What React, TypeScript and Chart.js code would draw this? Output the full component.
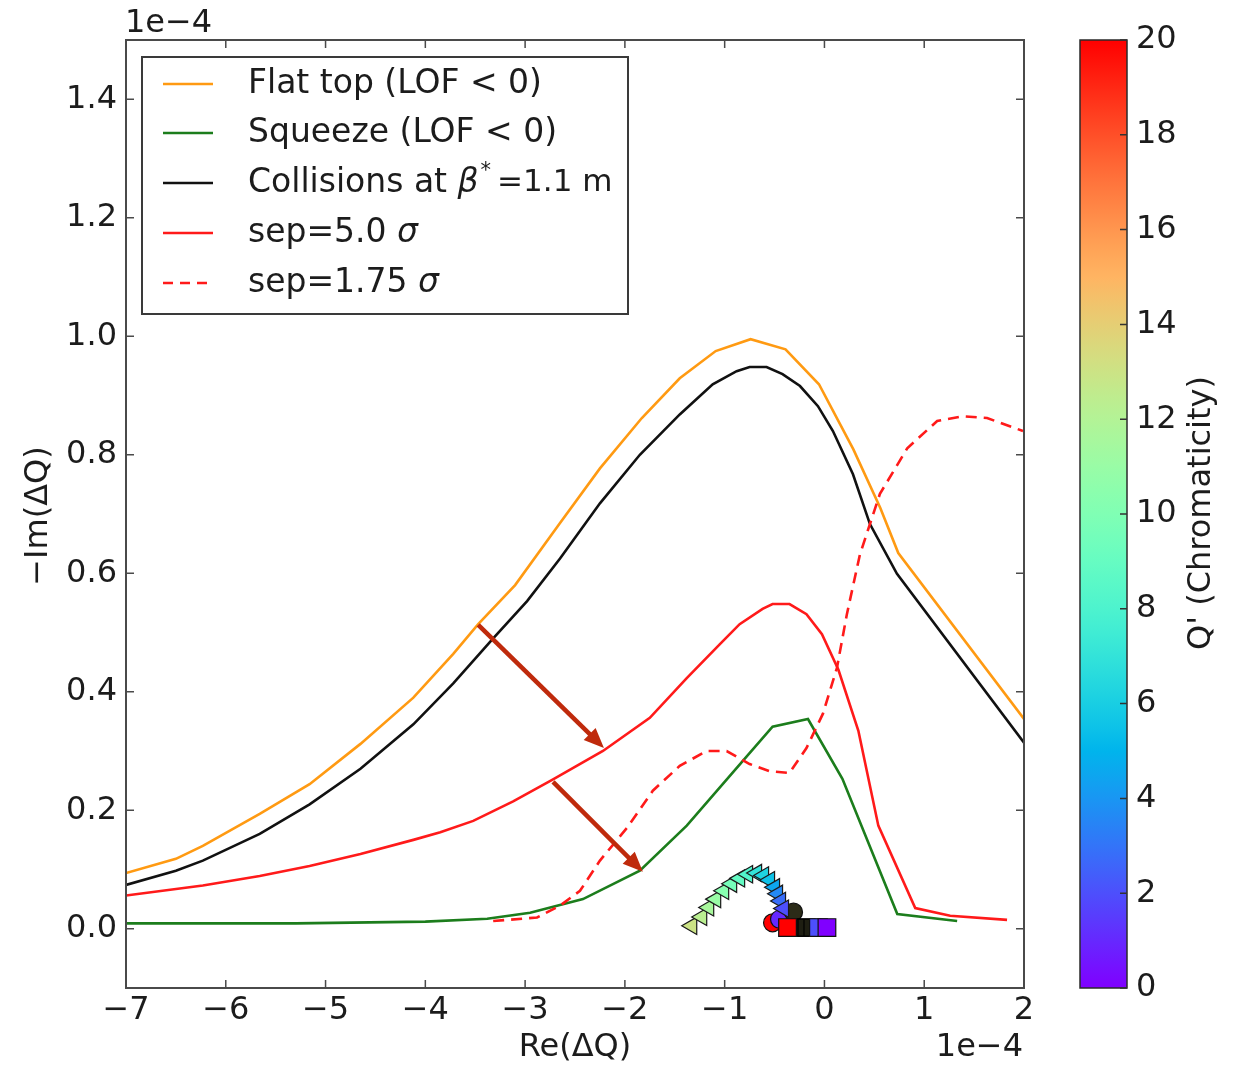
import React, { useEffect, useRef } from "react";
import { Chart, registerables } from "chart.js";

Chart.register(...registerables);

// ---------- data (units of 1e-4) ----------
const X_TICKS = [-7, -6, -5, -4, -3, -2, -1, 0, 1, 2];
const Y_TICKS = [0.0, 0.2, 0.4, 0.6, 0.8, 1.0, 1.2, 1.4];
const CBAR_TICKS = [0, 2, 4, 6, 8, 10, 12, 14, 16, 18, 20];

const flatTopX = [-7.0, -6.5, -6.23, -5.66, -5.16, -4.65, -4.12, -3.72, -3.47, -3.1, -2.65, -2.25, -1.83, -1.45, -1.09, -0.74, -0.39, -0.055, 0.29, 0.56, 0.74, 2.0];
const flatTopY = [0.094, 0.118, 0.14, 0.194, 0.244, 0.312, 0.39, 0.464, 0.514, 0.58, 0.685, 0.777, 0.862, 0.929, 0.975, 0.995, 0.978, 0.919, 0.809, 0.71, 0.634, 0.354];

const collX = [-7.0, -6.5, -6.23, -5.66, -5.16, -4.65, -4.12, -3.72, -3.32, -2.98, -2.65, -2.25, -1.85, -1.45, -1.12, -0.88, -0.75, -0.58, -0.42, -0.245, -0.065, 0.085, 0.286, 0.456, 0.727, 2.0];
const collY = [0.074, 0.098, 0.115, 0.16, 0.21, 0.27, 0.345, 0.414, 0.49, 0.553, 0.625, 0.718, 0.80, 0.868, 0.919, 0.941, 0.948, 0.948, 0.936, 0.916, 0.882, 0.84, 0.767, 0.683, 0.599, 0.314];

const sep5X = [-7.0, -6.23, -5.66, -5.16, -4.65, -4.12, -3.85, -3.52, -3.12, -2.72, -2.22, -1.75, -1.38, -1.05, -0.85, -0.62, -0.52, -0.35, -0.18, -0.025, 0.14, 0.34, 0.54, 0.91, 1.26, 1.83];
const sep5Y = [0.056, 0.073, 0.089, 0.106, 0.126, 0.15, 0.163, 0.182, 0.215, 0.252, 0.30, 0.356, 0.423, 0.48, 0.514, 0.54, 0.548, 0.548, 0.531, 0.497, 0.437, 0.334, 0.174, 0.035, 0.022, 0.015];

const squeezeX = [-7.0, -5.3, -4.0, -3.38, -2.95, -2.42, -1.85, -1.38, -0.82, -0.52, -0.165, 0.18, 0.73, 1.33];
const squeezeY = [0.009, 0.009, 0.012, 0.017, 0.027, 0.05, 0.098, 0.174, 0.283, 0.341, 0.354, 0.253, 0.025, 0.013];

const sep175X = [-3.32, -2.88, -2.65, -2.45, -2.25, -1.98, -1.72, -1.45, -1.18, -0.98, -0.75, -0.55, -0.35, -0.18, -0.015, 0.125, 0.225, 0.356, 0.556, 0.83, 1.13, 1.39, 1.63, 1.99];
const sep175Y = [0.013, 0.019, 0.039, 0.064, 0.115, 0.17, 0.233, 0.275, 0.30, 0.30, 0.278, 0.266, 0.263, 0.305, 0.363, 0.44, 0.531, 0.632, 0.734, 0.811, 0.857, 0.865, 0.862, 0.84];

// chromaticity scan markers
const triX = [-1.33, -1.23, -1.16, -1.09, -1.01, -0.93, -0.85, -0.77, -0.68, -0.61, -0.55, -0.5, -0.47, -0.44, -0.41];
const triY = [0.005, 0.02, 0.036, 0.05, 0.064, 0.076, 0.085, 0.092, 0.094, 0.09, 0.082, 0.07, 0.059, 0.047, 0.034];
const triQ = [13, 12.3, 11.6, 11, 10.3, 9.6, 8.9, 8.2, 7.0, 6.2, 5.5, 4.5, 3.6, 2.8, 2.0];

const circX = [-0.52, -0.45, -0.31];
const circY = [0.01, 0.016, 0.028];
const circQ = [20, 1, 0];

const darkSqX = [-0.3, -0.24, -0.18, -0.12];
const darkSqY = [0.002, 0.002, 0.002, 0.002];

const sqX = [-0.06, 0.025, -0.37];
const sqY = [0.002, 0.002, 0.002];
const sqQ = [2, 0, 20];

// annotation arrows [x1, y1, x2, y2]
const arrow1 = [-3.47, 0.513, -2.21, 0.305];
const arrow2 = [-2.72, 0.248, -1.82, 0.096];

const LEGEND_LABELS = ["Flat top (LOF < 0)", "Squeeze (LOF < 0)", "Collisions at ", "sep=5.0 ", "sep=1.75 "];

// ---------- styles ----------
const FONT = "'DejaVu Sans', sans-serif";
const FS = 32;
const LFS = 33;
const ORANGE = "#ff9a12";
const GREEN = "#1c7d1c";
const RED = "#ff1a1a";
const BLACK = "#111111";
const ARROW = "#bf2a0c";
const TXT = "#1c1c1c";
const LW = 2.6;

function rainbow(q: number): string {
  const t = Math.max(0, Math.min(1, q / 20));
  const cl = (v: number) => Math.max(0, Math.min(1, v));
  const r = cl(Math.abs(2 * t - 0.5));
  const g = cl(Math.sin(Math.PI * t));
  const b = cl(Math.cos((Math.PI / 2) * t));
  return `rgb(${Math.round(r * 255)},${Math.round(g * 255)},${Math.round(b * 255)})`;
}

const toPts = (xs: number[], ys: number[]) => xs.map((x, i) => ({ x, y: ys[i] }));
const fmt = (v: number) => (v < 0 ? "\u2212" + Math.abs(v) : String(v));

const CB = { left: 1080, right: 1127 };

function drawArrow(ctx: CanvasRenderingContext2D, x1: number, y1: number, x2: number, y2: number) {
  const a = Math.atan2(y2 - y1, x2 - x1);
  const hl = 20, hw = 8.5;
  const bx = x2 - hl * Math.cos(a), by = y2 - hl * Math.sin(a);
  ctx.save();
  ctx.strokeStyle = ARROW;
  ctx.fillStyle = ARROW;
  ctx.lineWidth = 4.5;
  ctx.beginPath();
  ctx.moveTo(x1, y1);
  ctx.lineTo(bx + 2 * Math.cos(a), by + 2 * Math.sin(a));
  ctx.stroke();
  ctx.beginPath();
  ctx.moveTo(x2, y2);
  ctx.lineTo(bx + hw * Math.sin(a), by - hw * Math.cos(a));
  ctx.lineTo(bx - hw * Math.sin(a), by + hw * Math.cos(a));
  ctx.closePath();
  ctx.fill();
  ctx.restore();
}

const decor = {
  id: "decor",
  afterDatasetsDraw(chart: any) {
    const ctx: CanvasRenderingContext2D = chart.ctx;
    const { left, right, top, bottom } = chart.chartArea;
    const xs = chart.scales.x, ys = chart.scales.y;
    const px = (v: number) => xs.getPixelForValue(v);
    const py = (v: number) => ys.getPixelForValue(v);

    for (const ar of [arrow1, arrow2]) drawArrow(ctx, px(ar[0]), py(ar[1]), px(ar[2]), py(ar[3]));

    ctx.save();
    ctx.strokeStyle = "#4a4a4a";
    ctx.lineWidth = 2;
    ctx.strokeRect(left, top, right - left, bottom - top);
    ctx.lineWidth = 1.5;
    ctx.beginPath();
    for (const v of X_TICKS) {
      const x = px(v);
      ctx.moveTo(x, bottom); ctx.lineTo(x, bottom - 8);
      ctx.moveTo(x, top); ctx.lineTo(x, top + 8);
    }
    for (const v of Y_TICKS) {
      const y = py(v);
      ctx.moveTo(left, y); ctx.lineTo(left + 8, y);
      ctx.moveTo(right, y); ctx.lineTo(right - 8, y);
    }
    ctx.stroke();

    // legend
    const L = { x: 142, y: 57, w: 486, h: 257 };
    ctx.fillStyle = "#ffffff";
    ctx.fillRect(L.x, L.y, L.w, L.h);
    ctx.strokeStyle = "#3a3a3a";
    ctx.lineWidth = 2;
    ctx.strokeRect(L.x, L.y, L.w, L.h);
    const rows = [84, 133, 183, 233, 283];
    const cols = [ORANGE, GREEN, BLACK, RED, RED];
    ctx.textBaseline = "middle";
    ctx.textAlign = "left";
    rows.forEach((ry, i) => {
      ctx.strokeStyle = cols[i];
      ctx.lineWidth = LW;
      ctx.setLineDash(i === 4 ? [10, 7] : []);
      ctx.beginPath();
      ctx.moveTo(163, ry); ctx.lineTo(213, ry);
      ctx.stroke();
      ctx.setLineDash([]);
      ctx.fillStyle = TXT;
      ctx.font = `${LFS}px ${FONT}`;
      let tx = 248;
      ctx.fillText(LEGEND_LABELS[i], tx, ry);
      tx += ctx.measureText(LEGEND_LABELS[i]).width;
      if (i === 2) {
        ctx.font = `italic ${LFS}px ${FONT}`;
        ctx.fillText("\u03b2", tx, ry);
        tx += ctx.measureText("\u03b2").width + 2;
        ctx.font = `21px ${FONT}`;
        ctx.fillText("*", tx, ry - 11);
        tx += ctx.measureText("*").width + 6;
        ctx.font = `31px ${FONT}`;
        ctx.fillText("=1.1 m", tx, ry);
      } else if (i === 3 || i === 4) {
        ctx.font = `italic ${LFS}px ${FONT}`;
        ctx.fillText("\u03c3", tx, ry);
      }
    });
    ctx.restore();
  },
  afterDraw(chart: any) {
    const ctx: CanvasRenderingContext2D = chart.ctx;
    const { top, bottom } = chart.chartArea;
    ctx.save();
    const g = ctx.createLinearGradient(0, bottom, 0, top);
    for (let i = 0; i <= 40; i++) g.addColorStop(i / 40, rainbow((i / 40) * 20));
    ctx.fillStyle = g;
    ctx.fillRect(CB.left, top, CB.right - CB.left, bottom - top);
    ctx.strokeStyle = "#2a2a2a";
    ctx.lineWidth = 1.5;
    ctx.strokeRect(CB.left, top, CB.right - CB.left, bottom - top);
    const cy = (q: number) => bottom - (q / 20) * (bottom - top);
    ctx.beginPath();
    ctx.strokeStyle = "#333";
    for (const q of CBAR_TICKS) {
      ctx.moveTo(CB.right - 7, cy(q)); ctx.lineTo(CB.right, cy(q));
    }
    ctx.stroke();
    ctx.fillStyle = TXT;
    ctx.font = `${FS}px ${FONT}`;
    ctx.textAlign = "left";
    ctx.textBaseline = "middle";
    for (const q of CBAR_TICKS) ctx.fillText(String(q), 1136, cy(q));

    ctx.textAlign = "left";
    ctx.fillText("1e\u22124", 125, 24);
    ctx.textAlign = "right";
    ctx.fillText("1e\u22124", 1023, 1048);
    ctx.textAlign = "center";
    ctx.fillText("Re(\u0394Q)", 575, 1048);
    ctx.save();
    ctx.translate(39, 516);
    ctx.rotate(-Math.PI / 2);
    ctx.fillText("\u2212Im(\u0394Q)", 0, 0);
    ctx.restore();
    ctx.save();
    ctx.translate(1202, 513);
    ctx.rotate(-Math.PI / 2);
    ctx.fillText("Q' (Chromaticity)", 0, 0);
    ctx.restore();
    ctx.restore();
  },
};

export default function App() {
  const ref = useRef<HTMLCanvasElement | null>(null);
  useEffect(() => {
    document.body.style.margin = "0";
    const canvas = ref.current!;
    const line = (label: string, xs: number[], ys: number[], color: string, order: number, dash: number[] = []) => ({
      label,
      data: toPts(xs, ys),
      showLine: true,
      borderColor: color,
      backgroundColor: color,
      borderWidth: LW,
      borderDash: dash,
      pointRadius: 0,
      fill: false,
      tension: 0,
      order,
    });
    const chart = new Chart(canvas, {
      type: "scatter",
      data: {
        datasets: [
          line("Flat top (LOF < 0)", flatTopX, flatTopY, ORANGE, 7),
          line("Squeeze (LOF < 0)", squeezeX, squeezeY, GREEN, 6),
          line("Collisions at beta*=1.1 m", collX, collY, BLACK, 5),
          line("sep=5.0 sigma", sep5X, sep5Y, RED, 4),
          line("sep=1.75 sigma", sep175X, sep175Y, RED, 3, [11, 7]),
          {
            label: "Q' circles",
            data: toPts(circX, circY),
            pointStyle: "circle",
            pointRadius: 9,
            backgroundColor: circQ.map((q, i) => (i === 2 ? "#2b2b18" : rainbow(q))),
            borderColor: "#111",
            borderWidth: 1.2,
            order: 2,
          },
          {
            label: "Q' triangles",
            data: toPts(triX, triY),
            pointStyle: "triangle",
            rotation: -90,
            pointRadius: 10,
            backgroundColor: triQ.map(rainbow),
            borderColor: "#1a1a1a",
            borderWidth: 1.2,
            order: 1,
          },
          {
            label: "Q' dark",
            data: toPts(darkSqX, darkSqY),
            pointStyle: "rect",
            pointRadius: 12,
            backgroundColor: "#1e1e12",
            borderColor: "#000",
            borderWidth: 1.2,
            order: 0.5,
          },
          {
            label: "Q' squares",
            data: toPts(sqX, sqY),
            pointStyle: "rect",
            pointRadius: 12.5,
            backgroundColor: sqQ.map(rainbow),
            borderColor: "#111",
            borderWidth: 1.2,
            order: 0,
          },
        ],
      } as any,
      options: {
        responsive: false,
        animation: false,
        devicePixelRatio: 1,
        layout: { padding: { left: 0, right: 215, top: 40, bottom: 0 } },
        plugins: { legend: { display: false }, tooltip: { enabled: false } },
        scales: {
          x: {
            type: "linear",
            min: -7,
            max: 2,
            afterBuildTicks: (s: any) => {
              s.ticks = X_TICKS.map((v) => ({ value: v }));
            },
            afterFit: (s: any) => {
              s.height = 78;
              s.paddingLeft = 0; s.paddingRight = 0;
            },
            grid: { display: false, drawTicks: false },
            border: { display: false },
            ticks: {
              font: { family: FONT, size: FS },
              color: TXT,
              padding: 3,
              maxRotation: 0,
              autoSkip: false,
              callback: (v: any) => fmt(Number(v)),
            },
          },
          y: {
            type: "linear",
            min: -0.1,
            max: 1.5,
            afterBuildTicks: (s: any) => {
              s.ticks = Y_TICKS.map((v) => ({ value: v }));
            },
            afterFit: (s: any) => {
              s.width = 126;
              s.paddingTop = 0; s.paddingBottom = 0;
            },
            grid: { display: false, drawTicks: false },
            border: { display: false },
            ticks: {
              font: { family: FONT, size: FS },
              color: TXT,
              padding: 9,
              autoSkip: false,
              callback: (v: any) => Number(v).toFixed(1),
            },
          },
        },
      } as any,
      plugins: [decor],
    });
    return () => chart.destroy();
  }, []);
  return (
    <canvas ref={ref} width={1239} height={1066} style={{ display: "block", width: 1239, height: 1066 }} />
  );
}
